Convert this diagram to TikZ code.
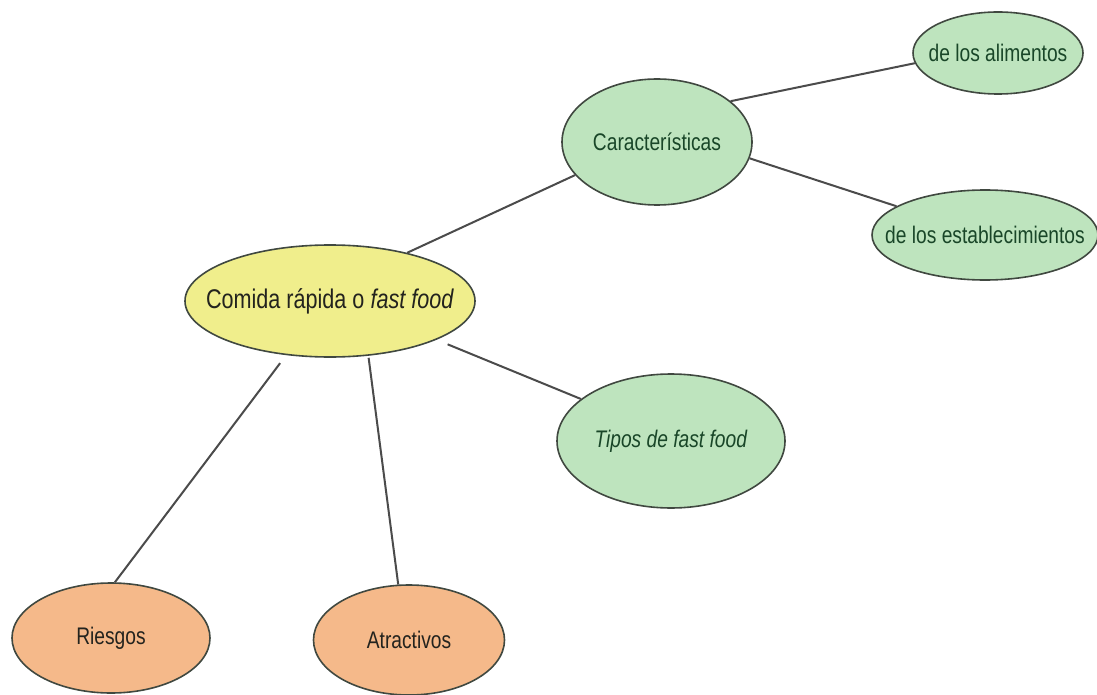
\documentclass[tikz,border=0pt]{standalone}
\usepackage{fontspec}
\setmainfont[FakeStretch=0.8]{Liberation Sans}
\usetikzlibrary{shapes.geometric}
\definecolor{greenfill}{RGB}{190,228,190}
\definecolor{yellowfill}{RGB}{240,238,140}
\definecolor{orangefill}{RGB}{245,185,138}
\definecolor{edgecol}{RGB}{64,72,64}
\definecolor{greentext}{RGB}{25,70,40}
\definecolor{darktext}{RGB}{35,35,30}
\definecolor{linecol}{RGB}{75,75,75}
\newcommand{\zb}[1]{\makebox[0pt][c]{#1}}
\tikzset{
  bubble/.style={ellipse, draw=edgecol, line width=1.6pt, inner sep=0pt},
  greenbubble/.style={bubble, fill=greenfill, text=greentext, font=\fontsize{24}{28}\selectfont},
  yellowbubble/.style={bubble, fill=yellowfill, text=darktext, font=\fontsize{27}{31}\selectfont},
  orangebubble/.style={bubble, fill=orangefill, text=darktext, font=\fontsize{24}{28}\selectfont},
  link/.style={draw=linecol, line width=2pt}
}
\begin{document}
\begin{tikzpicture}[x=1pt,y=-1pt]
\useasboundingbox[fill=white] (0,0) rectangle (1097,695);

\node[greenbubble, minimum width=170pt, minimum height=82pt] (alim) at (998,53) {\zb{de los alimentos}};
\node[greenbubble, minimum width=190pt, minimum height=126pt] (carac) at (657,142) {\zb{Características}};
\node[greenbubble, minimum width=226pt, minimum height=90pt] (estab) at (985,235) {\zb{de los establecimientos}};
\node[yellowbubble, minimum width=290pt, minimum height=112pt] (comida) at (330,301) {\zb{Comida rápida o \textit{fast food}}};
\node[greenbubble, minimum width=228pt, minimum height=134pt] (tipos) at (671,441) {\zb{\textit{Tipos de fast food}}};
\node[orangebubble, minimum width=198pt, minimum height=110pt] (riesgos) at (111,638) {\zb{Riesgos}};
\node[orangebubble, minimum width=191pt, minimum height=110pt] (atrac) at (409,640) {\zb{Atractivos}};

\draw[link] (comida.32.5) -- (carac.202.4);
\draw[link] (carac.29.9) -- (alim.187.3);
\draw[link] (carac.350) -- (estab.162);
\draw[link, shorten <=12pt] (comida.340.7) -- (tipos.155.7);
\draw[link, shorten <=10pt] (comida.231.1) -- (riesgos.86);
\draw[link, shorten <=2pt] (comida.305.1) -- (atrac.101.3);
\end{tikzpicture}
\end{document}
